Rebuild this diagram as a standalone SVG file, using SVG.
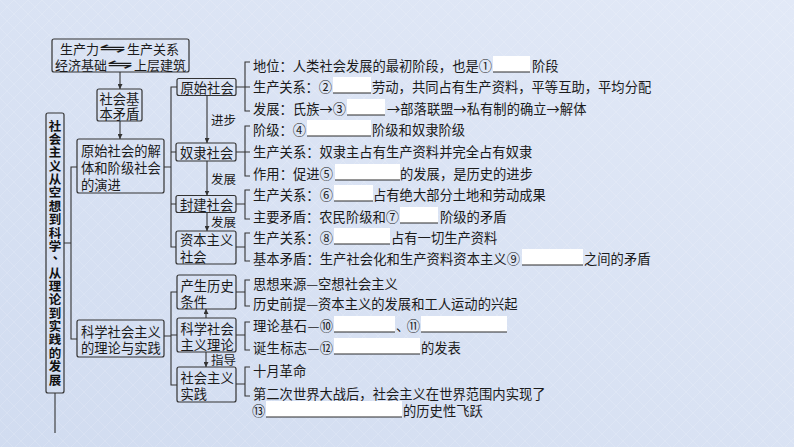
<svg xmlns="http://www.w3.org/2000/svg" width="794" height="447" viewBox="0 0 794 447">
<defs>
<linearGradient id="bg" x1="0" y1="1" x2="1" y2="0">
<stop offset="0" stop-color="#d1dcf0"/>
<stop offset="1" stop-color="#e2e9f7"/>
</linearGradient>
<pattern id="tex" width="14" height="14" patternUnits="userSpaceOnUse">
<path d="M0,0 L14,14 M14,0 L0,14" stroke="#ffffff" stroke-opacity="0.13" stroke-width="1"/>
</pattern>
<marker id="ah" viewBox="0 0 6 6" refX="6" refY="3" markerWidth="5" markerHeight="5" markerUnits="userSpaceOnUse" orient="auto">
<path d="M0,0 L6,3 L0,6 z" fill="#333"/>
</marker>
<style>
.box{fill:none;stroke:#333;stroke-width:1.2}
.ln{fill:none;stroke:#333;stroke-width:1.1}
.t{font-family:"Noto Sans CJK SC","Noto Sans CJK TC",sans-serif;font-size:13.3px;fill:#1b1b1b;dominant-baseline:central}
.s{font-size:12.5px}
.tb{font-family:"Noto Sans CJK SC",sans-serif;font-size:12.5px;font-weight:bold;fill:#111;text-anchor:middle;dominant-baseline:central}
.sym{font-family:"DejaVu Sans",sans-serif;font-size:14px;fill:#1b1b1b;dominant-baseline:central}
.bl{fill:#ffffff}
.ul{stroke:#2a2a2a;stroke-width:1}
</style>
</defs>
<rect width="794" height="447" fill="url(#bg)"/>
<rect width="794" height="447" fill="url(#tex)"/>

<g id="connectors">
<line class="ln" x1="120" y1="72" x2="120" y2="89" marker-end="url(#ah)"/>
<line class="ln" x1="120" y1="121" x2="120" y2="139" marker-end="url(#ah)"/>
<path class="ln" d="M55,393 V433"/>
<path class="ln" d="M64,243 H71 M77,167 H71 V339 H77"/>
<path class="ln" d="M164,167 H171 M177,87 H171 V247 H176 M171,152 H176 M171,204 H176"/>
<line class="ln" x1="207" y1="95.5" x2="207" y2="143" marker-end="url(#ah)"/>
<line class="ln" x1="207" y1="161" x2="207" y2="195.5" marker-end="url(#ah)"/>
<line class="ln" x1="207" y1="212.5" x2="207" y2="231" marker-end="url(#ah)"/>
<path class="ln" d="M164,336 H171 M177,292 H171 V385 H177 M171,335 H177"/>
<line class="ln" x1="206" y1="318" x2="206" y2="309" marker-end="url(#ah)"/>
<line class="ln" x1="206" y1="352" x2="206" y2="367" marker-end="url(#ah)"/>
<path class="ln" d="M236,87 H250 M250,62 H245 V111 H250"/>
<path class="ln" d="M236,152 H250 M250,126 H245 V176 H250"/>
<path class="ln" d="M236,204 H245 M250,190 H245 V219 H250"/>
<path class="ln" d="M236,247 H245 M250,233 H245 V261 H250"/>
<path class="ln" d="M236,292 H245 M250,280 H245 V306 H250"/>
<path class="ln" d="M236,335 H245 M250,322 H245 V350 H250"/>
<path class="ln" d="M236,384 H245 M250,367 H245 V396 H250"/>
</g>

<g id="n-top">
<rect class="box" x="52" y="39" width="137" height="33" rx="2"/>
<text class="t" x="60" y="48" style="font-size:13px">生产力</text>
<text class="sym" x="99" y="48" textLength="27" lengthAdjust="spacingAndGlyphs">⇋</text>
<text class="t" x="127" y="48" style="font-size:13px">生产关系</text>
<text class="t" x="55" y="64" style="font-size:13px">经济基础</text>
<text class="sym" x="107" y="64" textLength="26" lengthAdjust="spacingAndGlyphs">⇋</text>
<text class="t" x="134" y="64" style="font-size:13px">上层建筑</text>
</g>

<g id="n-jbmd">
<rect class="box" x="97" y="89" width="45" height="32" rx="2"/>
<text class="t" x="99.5" y="98">社会基</text>
<text class="t" x="99.5" y="113">本矛盾</text>
</g>

<g id="n-title">
<rect class="box" x="46" y="113" width="18" height="280" rx="2"/>
<text class="tb" x="55" y="125">社</text>
<text class="tb" x="55" y="138.4">会</text>
<text class="tb" x="55" y="151.7">主</text>
<text class="tb" x="55" y="165.1">义</text>
<text class="tb" x="55" y="178.5">从</text>
<text class="tb" x="55" y="191.9">空</text>
<text class="tb" x="55" y="205.2">想</text>
<text class="tb" x="55" y="218.6">到</text>
<text class="tb" x="55" y="232">科</text>
<text class="tb" x="55" y="245.3">学</text>
<text class="tb" x="59" y="253">、</text>
<text class="tb" x="55" y="272.1">从</text>
<text class="tb" x="55" y="285.4">理</text>
<text class="tb" x="55" y="298.8">论</text>
<text class="tb" x="55" y="312.2">到</text>
<text class="tb" x="55" y="325.5">实</text>
<text class="tb" x="55" y="338.9">践</text>
<text class="tb" x="55" y="352.3">的</text>
<text class="tb" x="55" y="365.7">发</text>
<text class="tb" x="55" y="379">展</text>
</g>

<g id="n-jieti">
<rect class="box" x="77" y="139" width="87" height="54" rx="2"/>
<text class="t" x="81" y="150">原始社会的解</text>
<text class="t" x="81" y="167">体和阶级社会</text>
<text class="t" x="81" y="184">的演进</text>
</g>

<g id="n-kxsh">
<rect class="box" x="77" y="320" width="87" height="37" rx="2"/>
<text class="t" x="81" y="331">科学社会主义</text>
<text class="t" x="81" y="347">的理论与实践</text>
</g>

<g id="n-yuanshi">
<rect class="box" x="177" y="78.5" width="59" height="17" rx="2"/>
<text class="t" x="180.5" y="87">原始社会</text>
<text class="t s" x="211" y="119">进步</text>
</g>

<g id="n-nuli">
<rect class="box" x="176" y="143" width="60" height="18" rx="2"/>
<text class="t" x="180" y="152">奴隶社会</text>
<text class="t s" x="211" y="178">发展</text>
</g>

<g id="n-fengjian">
<rect class="box" x="176" y="195.5" width="60" height="17" rx="2"/>
<text class="t" x="180" y="204">封建社会</text>
<text class="t s" x="211" y="221">发展</text>
</g>

<g id="n-ziben">
<rect class="box" x="176" y="231" width="60" height="33" rx="2"/>
<text class="t" x="180" y="239">资本主义</text>
<text class="t" x="180" y="256">社会</text>
</g>

<g id="n-chansheng">
<rect class="box" x="177" y="275" width="59" height="34" rx="2"/>
<text class="t" x="180.5" y="285">产生历史</text>
<text class="t" x="180.5" y="301">条件</text>
</g>

<g id="n-lilun">
<rect class="box" x="177" y="318" width="59" height="34" rx="2"/>
<text class="t" x="180.5" y="328">科学社会</text>
<text class="t" x="180.5" y="344">主义理论</text>
<text class="t s" x="211" y="359.5">指导</text>
</g>

<g id="n-shijian">
<rect class="box" x="177" y="367" width="59" height="35" rx="2"/>
<text class="t" x="180.5" y="377">社会主义</text>
<text class="t" x="180.5" y="393">实践</text>
</g>

<g id="items">
<text class="t" x="253" y="65" textLength="239" lengthAdjust="spacing">地位：人类社会发展的最初阶段，也是①</text>
<rect class="bl" x="493" y="56" width="37" height="16"/><line class="ul" x1="493" y1="72" x2="530" y2="72"/>
<text class="t" x="532" y="65">阶段</text>
<text class="t" x="253" y="86" textLength="79" lengthAdjust="spacing">生产关系：②</text>
<rect class="bl" x="333" y="77" width="38" height="16"/><line class="ul" x1="333" y1="93" x2="371" y2="93"/>
<text class="t" x="372" y="86">劳动，共同占有生产资料，平等互助，平均分配</text>
<text class="t" x="253" y="108" textLength="93" lengthAdjust="spacing">发展：氏族→③</text>
<rect class="bl" x="347" y="99" width="38" height="16"/><line class="ul" x1="347" y1="115" x2="385" y2="115"/>
<text class="t" x="387" y="108">→部落联盟→私有制的确立→解体</text>
<text class="t" x="253" y="129" textLength="53" lengthAdjust="spacing">阶级：④</text>
<rect class="bl" x="307" y="120" width="64" height="16"/><line class="ul" x1="307" y1="136" x2="371" y2="136"/>
<text class="t" x="372" y="129">阶级和奴隶阶级</text>
<text class="t" x="253" y="151">生产关系：奴隶主占有生产资料并完全占有奴隶</text>
<text class="t" x="253" y="173" textLength="80" lengthAdjust="spacing">作用：促进⑤</text>
<rect class="bl" x="335" y="164" width="65" height="16"/><line class="ul" x1="335" y1="180" x2="400" y2="180"/>
<text class="t" x="400" y="173">的发展，是历史的进步</text>
<text class="t" x="253" y="194" textLength="80" lengthAdjust="spacing">生产关系：⑥</text>
<rect class="bl" x="334" y="185" width="39" height="16"/><line class="ul" x1="334" y1="201" x2="373" y2="201"/>
<text class="t" x="373" y="194">占有绝大部分土地和劳动成果</text>
<text class="t" x="253" y="216" textLength="146" lengthAdjust="spacing">主要矛盾：农民阶级和⑦</text>
<rect class="bl" x="400" y="207" width="38" height="16"/><line class="ul" x1="400" y1="223" x2="438" y2="223"/>
<text class="t" x="440" y="216">阶级的矛盾</text>
<text class="t" x="253" y="237" textLength="80" lengthAdjust="spacing">生产关系：⑧</text>
<rect class="bl" x="334" y="228" width="56" height="16"/><line class="ul" x1="334" y1="244" x2="390" y2="244"/>
<text class="t" x="391" y="237">占有一切生产资料</text>
<text class="t" x="253" y="258" textLength="267" lengthAdjust="spacing">基本矛盾：生产社会化和生产资料资本主义⑨</text>
<rect class="bl" x="522" y="249" width="61" height="16"/><line class="ul" x1="522" y1="265" x2="583" y2="265"/>
<text class="t" x="584" y="258">之间的矛盾</text>
<text class="t" x="253" y="283">思想来源—空想社会主义</text>
<text class="t" x="253" y="303">历史前提—资本主义的发展和工人运动的兴起</text>
<text class="t" x="253" y="325" textLength="80" lengthAdjust="spacing">理论基石—⑩</text>
<rect class="bl" x="334" y="316" width="61" height="16"/><line class="ul" x1="334" y1="332" x2="395" y2="332"/>
<text class="t" x="396" y="325" textLength="24" lengthAdjust="spacing">、⑪</text>
<rect class="bl" x="421" y="316" width="86" height="16"/><line class="ul" x1="421" y1="332" x2="507" y2="332"/>
<text class="t" x="253" y="347" textLength="80" lengthAdjust="spacing">诞生标志—⑫</text>
<rect class="bl" x="334" y="338" width="86" height="16"/><line class="ul" x1="334" y1="354" x2="420" y2="354"/>
<text class="t" x="421" y="347">的发表</text>
<text class="t" x="253" y="370">十月革命</text>
<text class="t" x="253" y="393">第二次世界大战后，社会主义在世界范围内实现了</text>
<text class="t" x="252" y="410">⑬</text>
<rect class="bl" x="266" y="401" width="136" height="16"/><line class="ul" x1="266" y1="417" x2="402" y2="417"/>
<text class="t" x="403" y="410">的历史性飞跃</text>
</g>
</svg>
